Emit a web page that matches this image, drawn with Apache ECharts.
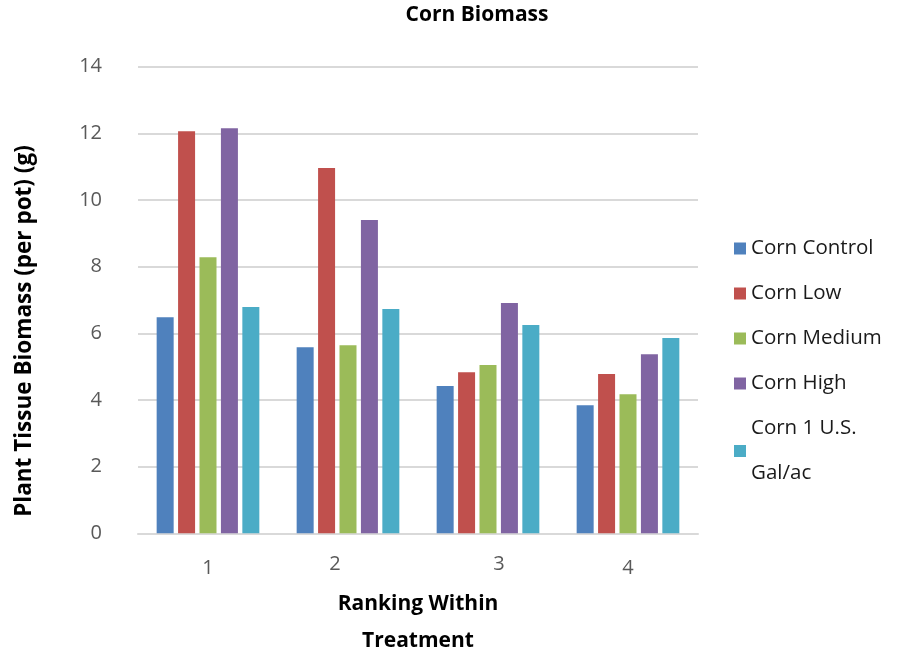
<!DOCTYPE html>
<html>
<head>
<meta charset="utf-8">
<title>Corn Biomass</title>
<script src="https://cdn.jsdelivr.net/npm/echarts@6/dist/echarts.min.js"></script>
<style>
  html, body { margin: 0; padding: 0; background: #ffffff; }
  #chart { width: 902px; height: 655px; }
</style>
</head>
<body>
<div id="chart"></div>
<script>
// Ranking categories along the x axis
const rankings = ['1', '2', '3', '4'];

// Plant tissue biomass (g per pot) for each treatment, by ranking
const cornControl = [6.48, 5.58, 4.42, 3.84];
const cornLow     = [12.06, 10.96, 4.83, 4.78];
const cornMedium  = [8.28, 5.64, 5.05, 4.17];
const cornHigh    = [12.15, 9.40, 6.91, 5.37];
const cornOneGal  = [6.79, 6.73, 6.25, 5.86];

const seriesNames = ['Corn Control', 'Corn Low', 'Corn Medium', 'Corn High', 'Corn 1 U.S. Gal/ac'];
const seriesValues = [cornControl, cornLow, cornMedium, cornHigh, cornOneGal];
const seriesColors = ['#4F81BD', '#C0504D', '#9BBB59', '#8064A2', '#4BACC6'];

const FONT = '"Open Sans", Lato, sans-serif';

// Small per-label nudges for the category labels
const labelPadding = [[4, 0, 0, 0], [0, 26, 0, 0], [0, 0, 0, 22], [4, 0, 0, 0]];

const chart = echarts.init(document.getElementById('chart'), null, { renderer: 'canvas' });

const option = {
  backgroundColor: '#ffffff',
  animation: false,
  title: {
    text: 'Corn Biomass',
    left: 472,
    top: 0,
    textAlign: 'center',
    textStyle: { fontFamily: FONT, fontWeight: 'bold', fontSize: 21, color: '#000000' }
  },
  legend: {
    orient: 'vertical',
    left: 729,
    top: 216,
    itemWidth: 12,
    itemHeight: 12,
    itemGap: -10,
    icon: 'rect',
    data: seriesNames,
    formatter: function (name) {
      return name === 'Corn 1 U.S. Gal/ac' ? 'Corn 1 U.S.\nGal/ac' : name;
    },
    textStyle: {
      fontFamily: FONT,
      fontSize: 20.5,
      color: '#1a1a1a',
      lineHeight: 45,
      padding: [0, 0, 10, 0]
    }
  },
  grid: {
    left: 138,
    right: 204,
    top: 66.7,
    bottom: 121.7,
    containLabel: false,
    outerBoundsMode: 'none'
  },
  xAxis: {
    type: 'category',
    data: rankings.map(function (r, i) {
      return { value: r, textStyle: { padding: labelPadding[i] } };
    }),
    axisTick: { show: false },
    axisLine: { show: true, lineStyle: { color: '#d9d9d9', width: 2 } },
    axisLabel: {
      margin: 21,
      fontFamily: FONT,
      fontSize: 20,
      color: '#595959'
    },
    name: 'Ranking Within\nTreatment',
    nameLocation: 'middle',
    nameGap: 52,
    nameTextStyle: {
      fontFamily: FONT,
      fontWeight: 'bold',
      fontSize: 21,
      color: '#000000',
      lineHeight: 37
    }
  },
  yAxis: {
    type: 'value',
    min: 0,
    max: 14,
    interval: 2,
    axisLine: { show: false },
    axisTick: { show: false },
    splitLine: { lineStyle: { color: '#d9d9d9', width: 2 } },
    axisLabel: {
      margin: 36,
      fontFamily: FONT,
      fontSize: 20,
      color: '#595959'
    }
  },
  graphic: [
    {
      type: 'text',
      x: 25,
      y: 331,
      rotation: Math.PI / 2,
      style: {
        text: 'Plant Tissue Biomass (per pot) (g)',
        font: 'bold 22.5px ' + FONT,
        fill: '#000000',
        align: 'center',
        verticalAlign: 'middle'
      }
    }
  ],
  series: seriesNames.map(function (name, i) {
    return {
      name: name,
      type: 'bar',
      data: seriesValues[i],
      barWidth: 17,
      barGap: '26%',
      itemStyle: { color: seriesColors[i] }
    };
  })
};

chart.setOption(option);
</script>
</body>
</html>
